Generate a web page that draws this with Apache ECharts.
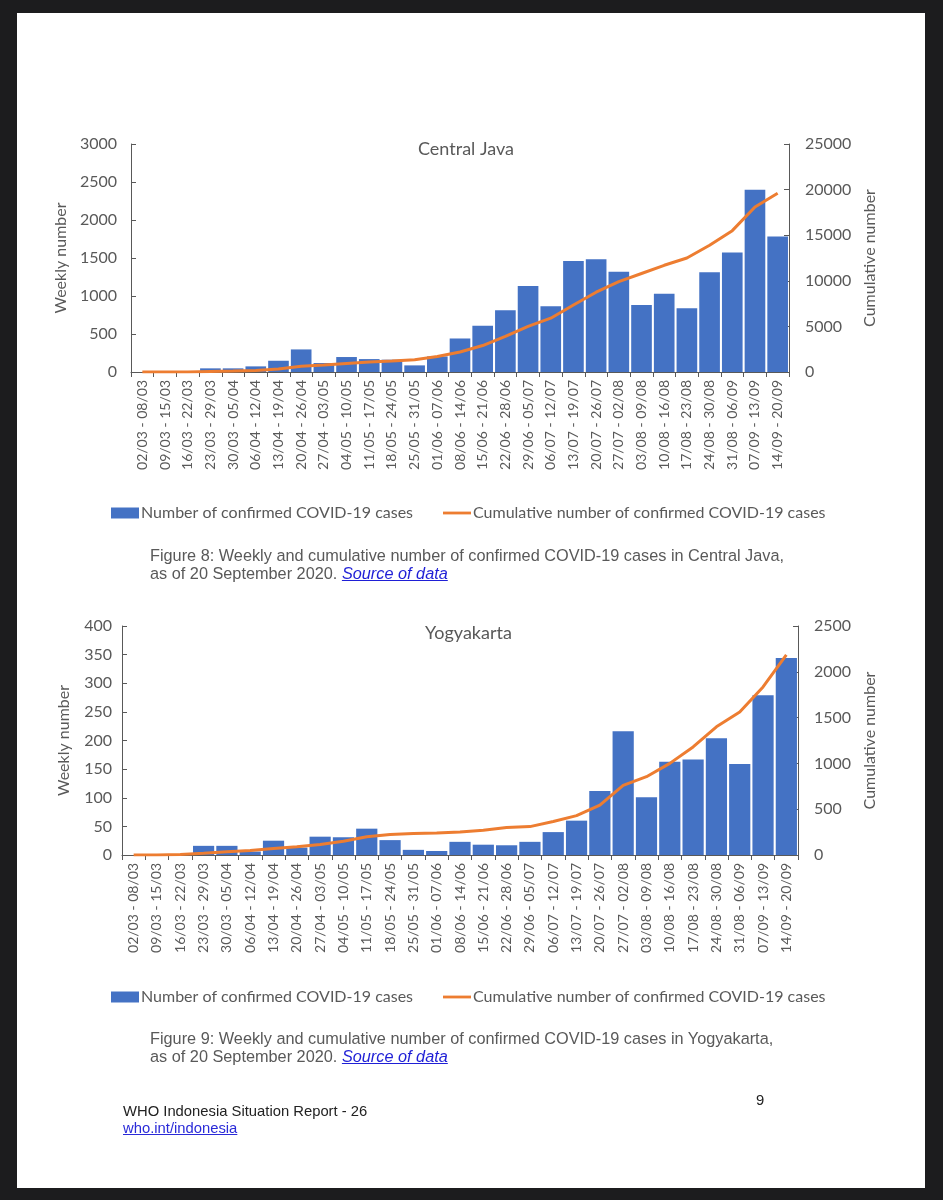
<!DOCTYPE html>
<html>
<head>
<meta charset="utf-8">
<script src="https://cdn.jsdelivr.net/npm/echarts@6/dist/echarts.min.js"></script>
<style>
  html, body { margin:0; padding:0; background:#1c1c1e; }
  #page { position:absolute; left:17px; top:13px; width:908px; height:1175px; background:#fff; }
  #chart { position:absolute; left:0; top:0; width:943px; height:1200px; }
  .cap { position:absolute; font-family:"Liberation Sans", Arial, sans-serif; font-size:16.3px; line-height:18px; color:#595959; }
  .cap a { color:#1f1fd6; font-style:italic; text-decoration:underline; }
  .foot { position:absolute; font-family:"Liberation Sans", Arial, sans-serif; font-size:14.8px; line-height:17px; color:#222; }
  .foot a { color:#2a2ad8; text-decoration:underline; }
</style>
</head>
<body>
<div id="page"></div>
<div id="chart"></div>
<div class="cap" style="left:150px; top:546px;">Figure 8: Weekly and cumulative number of confirmed COVID-19 cases in Central Java,<br>as of 20 September 2020. <a>Source of data</a></div>
<div class="cap" style="left:150px; top:1029px;">Figure 9: Weekly and cumulative number of confirmed COVID-19 cases in Yogyakarta,<br>as of 20 September 2020. <a>Source of data</a></div>
<div class="foot" style="left:756px; top:1092px;">9</div>
<div class="foot" style="left:123px; top:1103px;">WHO Indonesia Situation Report - 26<br><a>who.int/indonesia</a></div>
<script>
const categories = ["02/03 - 08/03","09/03 - 15/03","16/03 - 22/03","23/03 - 29/03","30/03 - 05/04","06/04 - 12/04","13/04 - 19/04","20/04 - 26/04","27/04 - 03/05","04/05 - 10/05","11/05 - 17/05","18/05 - 24/05","25/05 - 31/05","01/06 - 07/06","08/06 - 14/06","15/06 - 21/06","22/06 - 28/06","29/06 - 05/07","06/07 - 12/07","13/07 - 19/07","20/07 - 26/07","27/07 - 02/08","03/08 - 09/08","10/08 - 16/08","17/08 - 23/08","24/08 - 30/08","31/08 - 06/09","07/09 - 13/09","14/09 - 20/09"];
const javaWeekly = [0,0,2,48,48,74,148,297,118,197,170,162,87,205,441,607,812,1131,865,1459,1485,1319,882,1031,839,1311,1573,2398,1782];
const javaCumulative = [0,0,2,50,98,172,330,620,760,940,1090,1200,1350,1700,2200,2900,3900,5000,5900,7350,8750,9900,10800,11700,12500,13900,15500,18100,19600];
const yogyaWeekly = [0,0,1,16,16,6,25,13,32,31,46,26,9,7,23,18,17,23,40,60,112,216,101,163,167,204,159,279,344];
const yogyaCumulative = [0,0,5,18,35,50,72,90,115,150,200,225,235,240,250,270,300,310,365,430,545,760,855,1000,1180,1400,1560,1835,2185];
const barName = "Number of confirmed COVID-19 cases";
const lineName = "Cumulative number of confirmed COVID-19 cases";

const FONT = "Lato";
const GREY = "#595959";
const AXIS = "#595959";

function xAxis(gridIndex) {
  return {
    type:'category', gridIndex, data:categories,
    axisLine:{ lineStyle:{ color:AXIS, width:1 } },
    axisTick:{ show:true, length:5, lineStyle:{ color:AXIS } },
    axisLabel:{ rotate:90, interval:0, fontFamily:FONT, fontSize:14, color:GREY, margin:8 }
  };
}
function yAxis(gridIndex, pos, max, interval, name, nameGap, labelMargin) {
  return {
    type:'value', gridIndex, position:pos, min:0, max, interval,
    name, nameLocation:'middle', nameGap, nameRotate:90,
    nameTextStyle:{ fontFamily:FONT, fontSize:16, color:GREY },
    axisLine:{ show:true, lineStyle:{ color:AXIS, width:1 } },
    axisTick:{ show:true, inside:true, length:5, lineStyle:{ color:AXIS } },
    splitLine:{ show:false },
    axisLabel:{ fontFamily:FONT, fontSize:16, color:GREY, margin:labelMargin, formatter:(v)=>String(v) }
  };
}
function legend(top) {
  return {
    left:106, top,
    data:[
      { name:barName, icon:'rect' },
      { name:lineName, icon:'path://M0,0 L30,0 L30,3 L0,3 Z' }
    ],
    itemWidth:28, itemHeight:11, itemGap:30,
    textStyle:{ fontFamily:FONT, fontSize:16, color:GREY, padding:[0,0,0,-3] },
    selectedMode:false
  };
}

const chart = echarts.init(document.getElementById('chart'), null, { renderer:'canvas' });
chart.setOption({
  backgroundColor:'transparent',
  animation:false,
  title:[
    { text:'Central Java', left:413, top:135, textStyle:{ fontFamily:FONT, fontSize:18, fontWeight:'normal', color:GREY } },
    { text:'Yogyakarta', left:420, top:619, textStyle:{ fontFamily:FONT, fontSize:18, fontWeight:'normal', color:GREY } }
  ],
  legend:[ legend(500), legend(984) ],
  grid:[
    { left:131, top:144, width:658, height:228 },
    { left:122, top:626, width:676, height:229 }
  ],
  xAxis:[ xAxis(0), xAxis(1) ],
  yAxis:[
    yAxis(0,'left',3000,500,'Weekly number',58,14),
    yAxis(0,'right',25000,5000,'Cumulative number',66,16),
    yAxis(1,'left',400,50,'Weekly number',50,10),
    yAxis(1,'right',2500,500,'Cumulative number',56,16)
  ],
  series:[
    { name:barName, type:'bar', xAxisIndex:0, yAxisIndex:0, data:javaWeekly, barCategoryGap:'9%', itemStyle:{ color:'#4472C4' } },
    { name:lineName, type:'line', xAxisIndex:0, yAxisIndex:1, data:javaCumulative, symbol:'none', lineStyle:{ color:'#ED7D31', width:3 }, itemStyle:{ color:'#ED7D31' } },
    { name:barName, type:'bar', xAxisIndex:1, yAxisIndex:2, data:yogyaWeekly, barCategoryGap:'9%', itemStyle:{ color:'#4472C4' } },
    { name:lineName, type:'line', xAxisIndex:1, yAxisIndex:3, data:yogyaCumulative, symbol:'none', lineStyle:{ color:'#ED7D31', width:3 }, itemStyle:{ color:'#ED7D31' } }
  ]
});
</script>
</body>
</html>
